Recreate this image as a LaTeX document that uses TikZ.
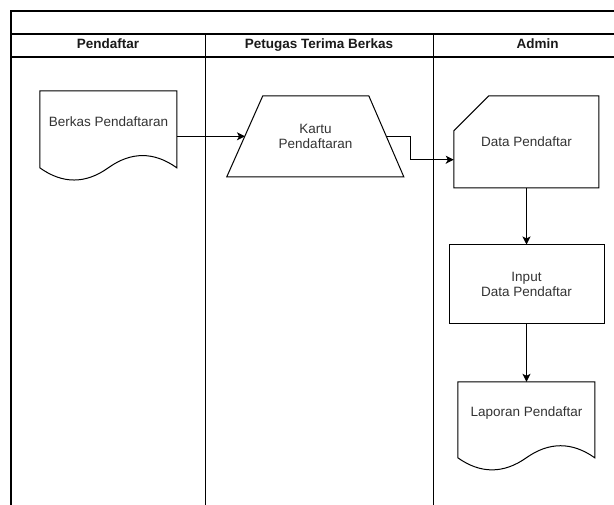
\documentclass[tikz,border=0pt]{standalone}
\usepackage{fontspec}
\setmainfont{Liberation Sans}
\usetikzlibrary{arrows.meta,calc}
\begin{document}
\begin{tikzpicture}[x=1pt,y=-1pt,
  line/.style={draw=black,line width=1pt},
  frame/.style={draw=black,line width=1.1pt},
  box/.style={rectangle,inner sep=0pt,draw=none,font=\fontsize{13.5pt}{15pt}\selectfont,text=black!80,align=center},
  txt/.style={inner sep=0pt,font=\fontsize{13.5pt}{15pt}\selectfont,text=black!80,align=center,text height=10pt,text depth=3pt},
  head/.style={inner sep=0pt,font=\fontsize{13.5pt}{15pt}\selectfont\bfseries,text=black!90,text height=10pt,text depth=3pt},
  arr/.style={draw=black,line width=1pt,-{Stealth[length=8pt,width=8pt,inset=2pt]}}
]
\useasboundingbox (0,0) rectangle (614,505);
% pool and lanes
\draw[frame] (11,505) -- (11,11) -- (614,11);
\draw[frame] (11,34) -- (614,34);
\draw[frame] (11,57) -- (614,57);
\draw[line] (205,34) -- (205,505);
\draw[line] (433,34) -- (433,505);
\node[head] (h1) at (108,45.5) {Pendaftar};
\node[head] (h2) at (319,45.5) {Petugas Terima Berkas};
\node[head] (h3) at (537.5,45.5) {Admin};

% Berkas Pendaftaran (document)
\node[box,minimum width=137pt,minimum height=90.6pt] (berkas) at (108.5,136.3) {};
\draw[line,fill=white,shift={(berkas.north west)}] (0,0) -- (137,0) -- (137,77)
  .. controls (114.2,60.7) and (91.3,60.7) .. (68.5,77)
  .. controls (45.7,93.3) and (22.8,93.3) .. (0,77) -- cycle;
\node[txt] (berkasT) at (108.5,123.3) {Berkas Pendaftaran};

% Kartu Pendaftaran (trapezoid)
\node[box,minimum width=177pt,minimum height=81pt] (kartu) at (315.5,136.5) {Kartu\\Pendaftaran};
\draw[line,shift={(kartu.north west)}] (0,81) -- (36,0) -- (142,0) -- (177,81) -- cycle;
\coordinate (kin) at (245,136.3);
\coordinate (kout) at (387.2,136.7);

% Data Pendaftar (card)
\node[box,minimum width=145pt,minimum height=92pt] (data) at (526.5,142) {Data Pendaftar};
\draw[line,shift={(data.north west)}] (35,0) -- (145,0) -- (145,92) -- (0,92) -- (0,35) -- cycle;
\coordinate (din) at ($(data.south west)+(0,-28.5)$);

% Input Data Pendaftar (process)
\node[box,draw=black,line width=1pt,minimum width=155pt,minimum height=79pt] (input) at (526.5,284.5) {Input\\Data Pendaftar};

% Laporan Pendaftar (document)
\node[box,minimum width=137pt,minimum height=89.4pt] (lap) at (526.5,426.7) {};
\draw[line,fill=white,shift={(lap.north west)}] (0,0) -- (137,0) -- (137,76)
  .. controls (114.2,59.9) and (91.3,59.9) .. (68.5,76)
  .. controls (45.7,92.1) and (22.8,92.1) .. (0,76) -- cycle;
\node[txt] (lapT) at (526.5,413.3) {Laporan Pendaftar};

% connectors
\draw[arr] (berkas.east) -- (kin);
\draw[arr] (kout) -- ++(23,0) |- (din);
\draw[arr] (data.south) -- (input.north);
\draw[arr] (input.south) -- (lap.north);
\end{tikzpicture}
\end{document}
